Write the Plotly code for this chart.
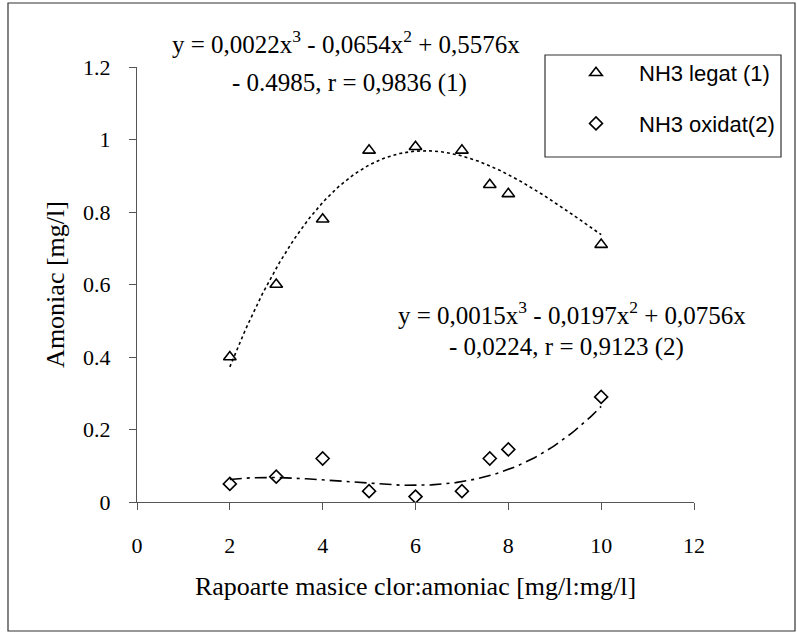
import numpy as np
import plotly.graph_objects as go

# Data
x_legat = [2, 3, 4, 5, 6, 7, 7.6, 8, 10]
y_legat = [0.40, 0.60, 0.78, 0.97, 0.98, 0.97, 0.875, 0.85, 0.71]

x_oxidat = [2, 3, 4, 5, 6, 7, 7.6, 8, 10]
y_oxidat = [0.05, 0.07, 0.12, 0.03, 0.015, 0.03, 0.12, 0.145, 0.29]

# Printed trendline coefficients (cubic, highest power first)
coef_legat = [0.0022, -0.0654, 0.5576, -0.4985]
coef_oxidat = [0.0015, -0.0197, 0.0756, -0.0224]

x_ticks = [0, 2, 4, 6, 8, 10, 12]
y_ticks = [0, 0.2, 0.4, 0.6, 0.8, 1.0, 1.2]

xs = np.linspace(2, 10, 200)
fit_legat = np.polyval(coef_legat, xs)
fit_oxidat = np.polyval(coef_oxidat, xs)

SERIF = "Liberation Serif"
SANS = "Liberation Sans"

fig = go.Figure()

fig.add_trace(go.Scatter(
    x=xs, y=fit_legat, mode="lines", showlegend=False,
    line=dict(color="black", width=1.6, dash="dot"), hoverinfo="skip"))
fig.add_trace(go.Scatter(
    x=xs, y=fit_oxidat, mode="lines", showlegend=False,
    line=dict(color="black", width=1.6, dash="12px,5px,3px,5px"), hoverinfo="skip"))

fig.add_trace(go.Scatter(
    x=x_legat, y=y_legat, mode="markers", name="NH3 legat (1)",
    legendgroup="a",
    marker=dict(symbol="triangle-up-open", size=11, color="black",
                line=dict(width=1.6, color="black"))))
fig.add_trace(go.Scatter(
    x=x_oxidat, y=y_oxidat, mode="markers", name="NH3 oxidat(2)",
    legendgroup="b",
    marker=dict(symbol="diamond-open", size=10, color="black",
                line=dict(width=1.6, color="black"))))

L, R, T, B = 137, 103, 67, 131
W, H = 797, 633
pw, ph = W - L - R, H - T - B

def px(xp):
    return (xp - L) / pw

def py(yp):
    return (H - B - yp) / ph

fig.update_layout(
    width=W, height=H,
    margin=dict(l=L, r=R, t=T, b=B, autoexpand=False),
    paper_bgcolor="white", plot_bgcolor="white",
    font=dict(family=SERIF, size=22, color="black"),
    showlegend=True,
    legend=dict(x=px(553), y=py(52), xanchor="left", yanchor="top",
                font=dict(family=SANS, size=22, color="black"),
                bgcolor="rgba(0,0,0,0)", borderwidth=0,
                itemwidth=76, tracegroupgap=19),
    xaxis=dict(range=[0, 12], tickvals=x_ticks, ticks="outside", ticklen=7,
               tickwidth=1.2, tickcolor="#555", showline=True, linecolor="#555",
               linewidth=1.2, showgrid=False, zeroline=False,
               tickfont=dict(family=SERIF, size=22),
               ticklabelstandoff=16,
               title=dict(text="Rapoarte masice clor:amoniac [mg/l:mg/l]",
                          font=dict(family=SERIF, size=26), standoff=20)),
    yaxis=dict(range=[0, 1.2], tickvals=y_ticks, ticks="outside", ticklen=7,
               tickwidth=1.2, tickcolor="#555", showline=True, linecolor="#555",
               linewidth=1.2, showgrid=False, zeroline=False,
               tickfont=dict(family=SERIF, size=22),
               ticklabelstandoff=14,
               title=dict(text="Amoniac [mg/l]",
                          font=dict(family=SERIF, size=26), standoff=10)),
)

# outer chart frame and legend box
fig.add_shape(type="rect", xref="paper", yref="paper",
              x0=px(8), x1=px(795), y0=py(631), y1=py(3),
              line=dict(color="#333", width=1.2), layer="below")
fig.add_shape(type="rect", xref="paper", yref="paper",
              x0=px(545), x1=px(781), y0=py(157), y1=py(55),
              line=dict(color="#333", width=1.2), layer="below")

eq_font = dict(family=SERIF, size=25, color="black")
ann = [
    ("y = 0,0022x<sup>3</sup> - 0,0654x<sup>2</sup> + 0,5576x", 346, 42),
    ("- 0.4985, r = 0,9836 (1)", 349, 83),
    ("y = 0,0015x<sup>3</sup> - 0,0197x<sup>2</sup> + 0,0756x", 572, 313),
    ("- 0,0224, r = 0,9123 (2)", 566, 347),
]
for text, xp, yp in ann:
    fig.add_annotation(text=text, xref="paper", yref="paper",
                       x=px(xp), y=py(yp), xanchor="center", yanchor="middle",
                       showarrow=False, font=eq_font)

fig.write_html("out.html", config={"displayModeBar": False},
               post_script="document.body.style.margin='0px';")
